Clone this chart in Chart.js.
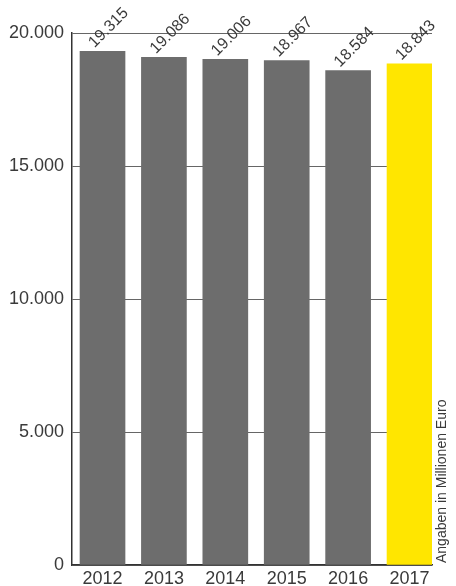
<!DOCTYPE html>
<html>
<head>
<meta charset="utf-8">
<script src="https://cdn.jsdelivr.net/npm/chart.js@4"></script>
<style>
html,body{margin:0;padding:0;background:#fff;}
#wrap{width:456px;height:586px;position:relative;}
</style>
</head>
<body>
<div id="wrap"><canvas id="c" width="456" height="586"></canvas></div>
<script>
const years = ['2012','2013','2014','2015','2016','2017'];
const values = [19315, 19086, 19006, 18967, 18584, 18843];
const valueLabels = ['19.315','19.086','19.006','18.967','18.584','18.843'];
const barColors = ['#6d6d6d','#6d6d6d','#6d6d6d','#6d6d6d','#6d6d6d','#ffe600'];
const yTicks = [0, 5000, 10000, 15000, 20000];
const unitLabel = 'Angaben in Millionen Euro';

const FONT = '"Liberation Sans", Arial, Helvetica, sans-serif';
const TEXT = '#3a3a3a';

const fmt = v => v === 0 ? '0' : String(v).replace(/\B(?=(\d{3})+(?!\d))/g, '.');

const labelPlugin = {
  id: 'labels',
  afterDatasetsDraw(chart) {
    const ctx = chart.ctx;
    const meta = chart.getDatasetMeta(0);
    ctx.save();
    ctx.fillStyle = TEXT;
    ctx.font = '16px ' + FONT;
    ctx.textAlign = 'left';
    ctx.textBaseline = 'alphabetic';
    meta.data.forEach((bar, i) => {
      ctx.save();
      ctx.translate(bar.x - 8, bar.y - 3);
      ctx.rotate(-Math.PI / 4);
      ctx.fillText(valueLabels[i], 0, 0);
      ctx.restore();
    });
    ctx.font = '14px ' + FONT;
    ctx.translate(chart.chartArea.right + 14, chart.chartArea.bottom - 2);
    ctx.rotate(-Math.PI / 2);
    ctx.fillText(unitLabel, 0, 0);
    ctx.restore();
  }
};

new Chart(document.getElementById('c'), {
  type: 'bar',
  data: {
    datasets: [{
      data: values.map((v, i) => ({x: i, y: v})),
      backgroundColor: barColors,
      borderWidth: 0,
      barThickness: 45
    }]
  },
  options: {
    responsive: false,
    animation: false,
    layout: {padding: {top: 33, right: 24, left: 0, bottom: 0}},
    plugins: {legend: {display: false}, tooltip: {enabled: false}},
    scales: {
      x: {
        type: 'linear',
        offset: false,
        min: -0.497,
        max: 5.366,
        afterBuildTicks: s => { s.ticks = years.map((_, i) => ({value: i})); },
        afterFit: s => { s.height = 21; },
        grid: {display: false, drawTicks: false},
        border: {display: true, color: '#333', width: 1.5},
        ticks: {
          autoSkip: false,
          maxRotation: 0,
          padding: 3,
          color: TEXT,
          font: {family: FONT, size: 18},
          callback: (v) => years[v] !== undefined ? years[v] : ''
        }
      },
      y: {
        min: 0,
        max: 20000,
        afterBuildTicks: s => { s.ticks = yTicks.map(v => ({value: v})); },
        afterFit: s => { s.width = 72; },
        grid: {color: '#666', lineWidth: 1, drawTicks: false},
        border: {display: true, color: '#333', width: 1.5},
        ticks: {
          padding: 8,
          color: TEXT,
          font: {family: FONT, size: 18},
          callback: v => fmt(v)
        }
      }
    }
  },
  plugins: [labelPlugin]
});
</script>
</body>
</html>
